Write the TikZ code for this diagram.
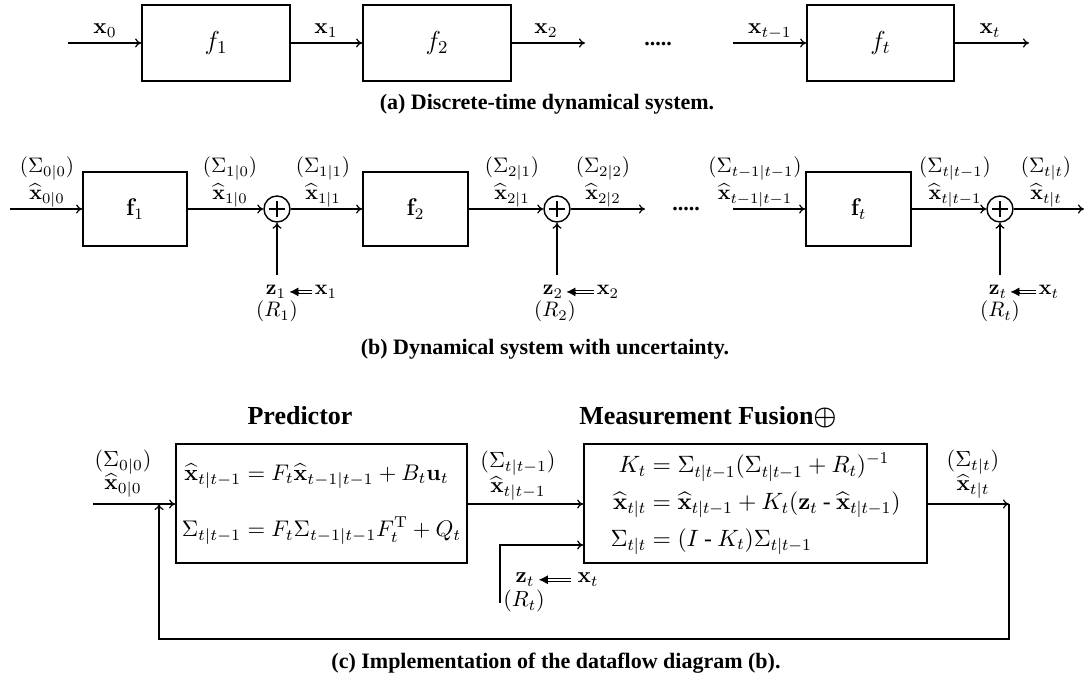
\RequirePackage{fix-cm}
\documentclass[tikz,border=0pt]{standalone}
\usepackage{amsmath}
\usepackage{bm}
\usepackage[no-math]{fontspec}
\setmainfont{Liberation Serif}
\usetikzlibrary{arrows.meta,calc}
\tikzset{
  arr/.style={line width=0.6pt,-{To[length=3pt,width=4.5pt]}},
  ln/.style={line width=0.6pt},
  box/.style={draw,line width=0.9pt,inner sep=0pt},
  la/.style={font=\fontsize{11}{13}\selectfont,inner sep=0pt,anchor=base},
  lb/.style={font=\fontsize{10.5}{12}\selectfont,inner sep=0pt,anchor=base},
  lc/.style={font=\fontsize{11}{13}\selectfont,inner sep=0pt,anchor=base},
  captext/.style={font=\bfseries\fontsize{11}{13}\selectfont,inner sep=0pt,anchor=base},
  ttl/.style={font=\bfseries\fontsize{13}{15}\selectfont,inner sep=0pt,anchor=base},
  opl/.style={circle,draw,line width=0.7pt,minimum size=13pt,inner sep=0pt,
    path picture={\draw[line width=1.1pt] ([xshift=-4pt]path picture bounding box.center) -- ([xshift=4pt]path picture bounding box.center);
                  \draw[line width=1.1pt] ([yshift=-4pt]path picture bounding box.center) -- ([yshift=4pt]path picture bounding box.center);}},
  dbl/.style={double,double distance=1.1pt,line width=0.45pt},
  dtip/.style={line width=0.4pt,-{Latex[length=4.5pt,width=4.5pt]}},
}
\begin{document}
\begin{tikzpicture}[x=0.5pt,y=-0.5pt]
\useasboundingbox (0,0) rectangle (1084,679);

% ---------------- (a) ----------------
\node[box,minimum width=74pt,minimum height=38pt,font=\fontsize{13}{15}\selectfont] (fa1) at (216,43) {$f_1$};
\node[box,minimum width=74pt,minimum height=38pt,font=\fontsize{13}{15}\selectfont] (fa2) at (437,43) {$f_2$};
\node[box,minimum width=73.5pt,minimum height=38pt,font=\fontsize{13}{15}\selectfont] (fat) at (880.5,43) {$f_t$};
\coordinate (a0) at (68,43);
\coordinate (a2) at (585,43);
\coordinate (a3) at (733,43);
\coordinate (a4) at (1029,43);
\draw[arr] (a0) -- (fa1);
\draw[arr] (fa1) -- (fa2);
\draw[arr] (fa2) -- (a2);
\draw[arr] (a3) -- (fat);
\draw[arr] (fat) -- (a4);
\node[la] (lx0) at (105,34) {$\mathbf{x}_0$};
\node[la] (lx1) at (326,34) {$\mathbf{x}_1$};
\node[la] (lx2) at (546,34) {$\mathbf{x}_2$};
\node[la] (lxt1) at (770,34) {$\mathbf{x}_{t-1}$};
\node[la] (lxt) at (990,34) {$\mathbf{x}_t$};
\node[la] (dotsa) at (658,46) {\textbf{.....}};
\node[captext] (capa) at (547,110) {(a) Discrete-time dynamical system.};

% ---------------- (b) ----------------
\node[box,minimum width=52pt,minimum height=37pt,font=\fontsize{12}{14}\selectfont] (fb1) at (135,209) {$\mathbf{f}_1$};
\node[box,minimum width=52.5pt,minimum height=37pt,font=\fontsize{12}{14}\selectfont] (fb2) at (415.5,209) {$\mathbf{f}_2$};
\node[box,minimum width=52.5pt,minimum height=37pt,font=\fontsize{12}{14}\selectfont] (fbt) at (858.5,209) {$\mathbf{f}_t$};
\node[opl] (op1) at (277,209) {};
\node[opl] (op2) at (557,209) {};
\node[opl] (op3) at (1000,209) {};
\coordinate (b0) at (10,209);
\coordinate (b2) at (645,209);
\coordinate (b3) at (733,209);
\coordinate (b4) at (1084,209);
\draw[arr] (b0) -- (fb1);
\draw[arr] (fb1) -- (op1);
\draw[arr] (op1) -- (fb2);
\draw[arr] (fb2) -- (op2);
\draw[arr] (op2) -- (b2);
\draw[arr] (b3) -- (fbt);
\draw[arr] (fbt) -- (op3);
\draw[arr] (op3) -- (b4);
\node[la] (dotsb) at (686,211) {\textbf{.....}};

\node[lb] (s00) at (47,173) {$(\Sigma_{0|0})$};
\node[lb] (h00) at (47,200) {$\widehat{\mathbf{x}}_{0|0}$};
\node[lb] (s10) at (230,173) {$(\Sigma_{1|0})$};
\node[lb] (h10) at (230,200) {$\widehat{\mathbf{x}}_{1|0}$};
\node[lb] (s11) at (323,173) {$(\Sigma_{1|1})$};
\node[lb] (h11) at (323,200) {$\widehat{\mathbf{x}}_{1|1}$};
\node[lb] (s21) at (512,173) {$(\Sigma_{2|1})$};
\node[lb] (h21) at (512,200) {$\widehat{\mathbf{x}}_{2|1}$};
\node[lb] (s22) at (603,173) {$(\Sigma_{2|2})$};
\node[lb] (h22) at (603,200) {$\widehat{\mathbf{x}}_{2|2}$};
\node[lb] (stt1) at (755,173) {$(\Sigma_{t-1|t-1})$};
\node[lb] (htt1) at (755,200) {$\widehat{\mathbf{x}}_{t-1|t-1}$};
\node[lb] (st1) at (955,173) {$(\Sigma_{t|t-1})$};
\node[lb] (ht1) at (955,200) {$\widehat{\mathbf{x}}_{t|t-1}$};
\node[lb] (stt) at (1046,173) {$(\Sigma_{t|t})$};
\node[lb] (htt) at (1046,200) {$\widehat{\mathbf{x}}_{t|t}$};

\node[lb] (bz1) at (276,295) {$\mathbf{z}_1$};
\node[lb] (bx1) at (326,295) {$\mathbf{x}_1$};
\node[lb] (br1) at (277,317) {$(R_1)$};
\node[lb] (bz2) at (553,295) {$\mathbf{z}_2$};
\node[lb] (bx2) at (608,295) {$\mathbf{x}_2$};
\node[lb] (br2) at (555,317) {$(R_2)$};
\node[lb] (bzt) at (998,295) {$\mathbf{z}_t$};
\node[lb] (bxt) at (1049,295) {$\mathbf{x}_t$};
\node[lb] (brt) at (1000,317) {$(R_t)$};
\coordinate (v1) at (277,275);
\coordinate (v2) at (557,275);
\coordinate (v3) at (1000,275);
\draw[arr] (v1) -- (op1);
\draw[arr] (v2) -- (op2);
\draw[arr] (v3) -- (op3);
\draw[dbl] ([xshift=-1.5pt]bx1.west) -- ($(bz1.east)+(5pt,0)$);
\draw[dtip] ($(bz1.east)+(6pt,0)$) -- ([xshift=1.5pt]bz1.east);
\draw[dbl] ([xshift=-1.5pt]bx2.west) -- ($(bz2.east)+(5pt,0)$);
\draw[dtip] ($(bz2.east)+(6pt,0)$) -- ([xshift=1.5pt]bz2.east);
\draw[dbl] ([xshift=-1.5pt]bxt.west) -- ($(bzt.east)+(5pt,0)$);
\draw[dtip] ($(bzt.east)+(6pt,0)$) -- ([xshift=1.5pt]bzt.east);
\node[captext] (capb) at (545,355) {(b) Dynamical system with uncertainty.};

% ---------------- (c) ----------------
\node[ttl] (tpred) at (300,425) {Predictor};
\node[ttl] (tmf) at (708,425) {Measurement Fusion$\bm{\oplus}$};
\node[box,minimum width=145.5pt,minimum height=59.5pt,font=\fontsize{11.3}{13}\selectfont] (pred) at (321.5,503.5)
  {$\begin{aligned}
    \widehat{\mathbf{x}}_{t|t-1} &= F_t\widehat{\mathbf{x}}_{t-1|t-1} + B_t\mathbf{u}_t\\[10pt]
    \Sigma_{t|t-1} &= F_t\Sigma_{t-1|t-1}F_t^{\mathrm{T}} + Q_t
  \end{aligned}$};
\node[box,minimum width=171.5pt,minimum height=59.5pt,font=\fontsize{11.8}{13}\selectfont] (mf) at (755.5,503.5)
  {$\begin{aligned}
    K_t &= \Sigma_{t|t-1}(\Sigma_{t|t-1} + R_t)^{-1}\\[1pt]
    \widehat{\mathbf{x}}_{t|t} &= \widehat{\mathbf{x}}_{t|t-1} + K_t(\mathbf{z}_t \mathbin{\text{-}} \widehat{\mathbf{x}}_{t|t-1})\\[1pt]
    \Sigma_{t|t} &= (I \mathbin{\text{-}} K_t)\Sigma_{t|t-1}
  \end{aligned}$};
\coordinate (c0) at (93,504);
\coordinate (corner) at (1009,504);
\coordinate (cbr) at (1009,639);
\coordinate (cbl) at (159,639);
\coordinate (cfb) at (159,504);
\draw[arr] (c0) -- (pred.west |- c0);
\draw[arr] (pred.east |- c0) -- (mf.west |- c0);
\draw[arr] (mf.east |- c0) -- (corner);
\draw[arr] (corner) -- (cbr) -- (cbl) -- (cfb);
\coordinate (zin) at (500,603);
\coordinate (zbend) at (500,545);
\draw[arr] (zin) -- (zbend) -- (zbend -| mf.west);

\node[lc] (cs00) at (123,467) {$(\Sigma_{0|0})$};
\node[lc] (ch00) at (123,490) {$\widehat{\mathbf{x}}_{0|0}$};
\node[lc] (cst1) at (518,468) {$(\Sigma_{t|t-1})$};
\node[lc] (cht1) at (518,493) {$\widehat{\mathbf{x}}_{t|t-1}$};
\node[lc] (cstt) at (973,467) {$(\Sigma_{t|t})$};
\node[lc] (chtt) at (973,491) {$\widehat{\mathbf{x}}_{t|t}$};

\node[lc] (czt) at (525,583) {$\mathbf{z}_t$};
\node[lc] (cxt) at (588,583) {$\mathbf{x}_t$};
\node[lc] (crt) at (524,607) {$(R_t)$};
\draw[dbl] ([xshift=-3pt]cxt.west) -- ($(czt.east)+(5.5pt,0)$);
\draw[dtip] ($(czt.east)+(6.5pt,0)$) -- ([xshift=2pt]czt.east);
\node[captext] (capc) at (556,669) {(c) Implementation of the dataflow diagram (b).};
\end{tikzpicture}
\end{document}
